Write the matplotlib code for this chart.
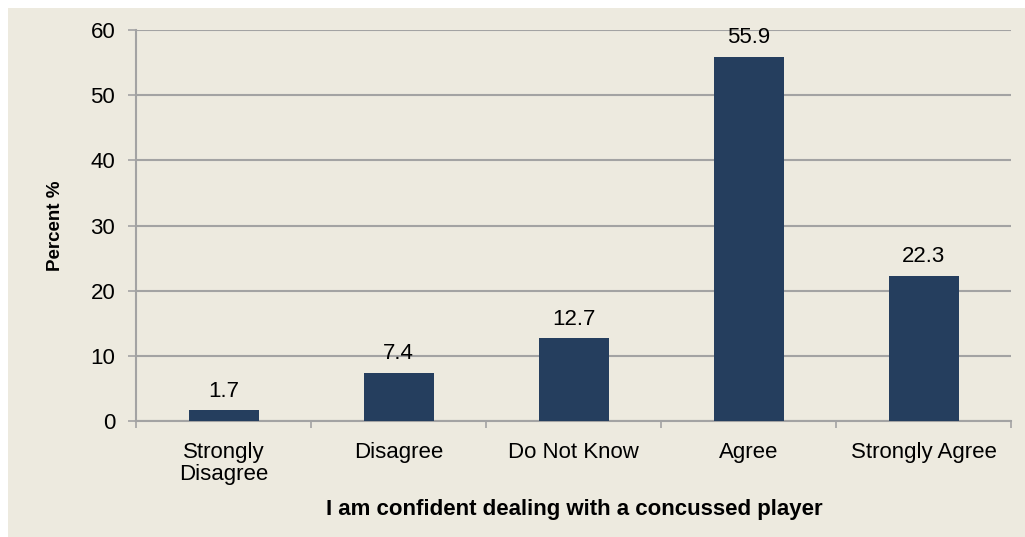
import matplotlib
matplotlib.use("Agg")
import matplotlib.pyplot as plt
from matplotlib.patches import Rectangle

# survey responses
categories = ["Strongly\nDisagree", "Disagree", "Do Not Know", "Agree", "Strongly Agree"]
percent = [1.7, 7.4, 12.7, 55.9, 22.3]
y_ticks = [0, 10, 20, 30, 40, 50, 60]

bg = "#EDEADF"
bar_color = "#253E5E"
grid_color = "#A3A3A3"

plt.rcParams["font.family"] = ["Liberation Sans", "DejaVu Sans"]

W, H = 1025, 537
fig = plt.figure(figsize=(W / 100, H / 100), dpi=100)
fig.patch.set_facecolor("white")
fig.add_artist(Rectangle((8 / W, 0), 1 - 8 / W, 1 - 8 / H, transform=fig.transFigure,
                         facecolor=bg, edgecolor="none", zorder=-10))

ax = fig.add_axes([136 / W, 1 - 421 / H, (1011 - 136) / W, (421 - 30) / H])
ax.set_facecolor(bg)

x = list(range(len(categories)))
bars = ax.bar(x, percent, width=0.4, color=bar_color, zorder=3)
for b, v in zip(bars, percent):
    ax.annotate(f"{v}", (b.get_x() + b.get_width() / 2, v), xytext=(0, 6),
                textcoords="offset points", ha="center", va="bottom", fontsize=16)

ax.set_xlim(-0.5, len(categories) - 0.5)
ax.set_ylim(0, 60)
ax.set_yticks(y_ticks)
ax.tick_params(axis="y", labelsize=16, length=6, width=1.2, color=grid_color, pad=9)
ax.set_xticks([i - 0.5 for i in range(len(categories) + 1)], minor=False)
ax.set_xticklabels([])
ax.set_xticks(x, minor=True)
ax.set_xticklabels(categories, minor=True, fontsize=16, linespacing=1.1)
ax.tick_params(axis="x", which="major", length=5, width=1.2, color=grid_color, direction="out")
ax.tick_params(axis="x", which="minor", length=0, pad=15)

ax.grid(axis="y", color=grid_color, linewidth=1.5, zorder=0)
for s in ["top", "right"]:
    ax.spines[s].set_visible(False)
for s in ["left", "bottom"]:
    ax.spines[s].set_color(grid_color)
    ax.spines[s].set_linewidth(1.5)

fig.text(55 / W, 1 - 226 / H, "Percent %", rotation=90, ha="center", va="center",
         fontsize=13.5, fontweight="bold")
fig.text(574 / W, 1 - 510 / H, "I am confident dealing with a concussed player",
         ha="center", va="center", fontsize=16, fontweight="bold")

fig.savefig("out.png", dpi=100)
